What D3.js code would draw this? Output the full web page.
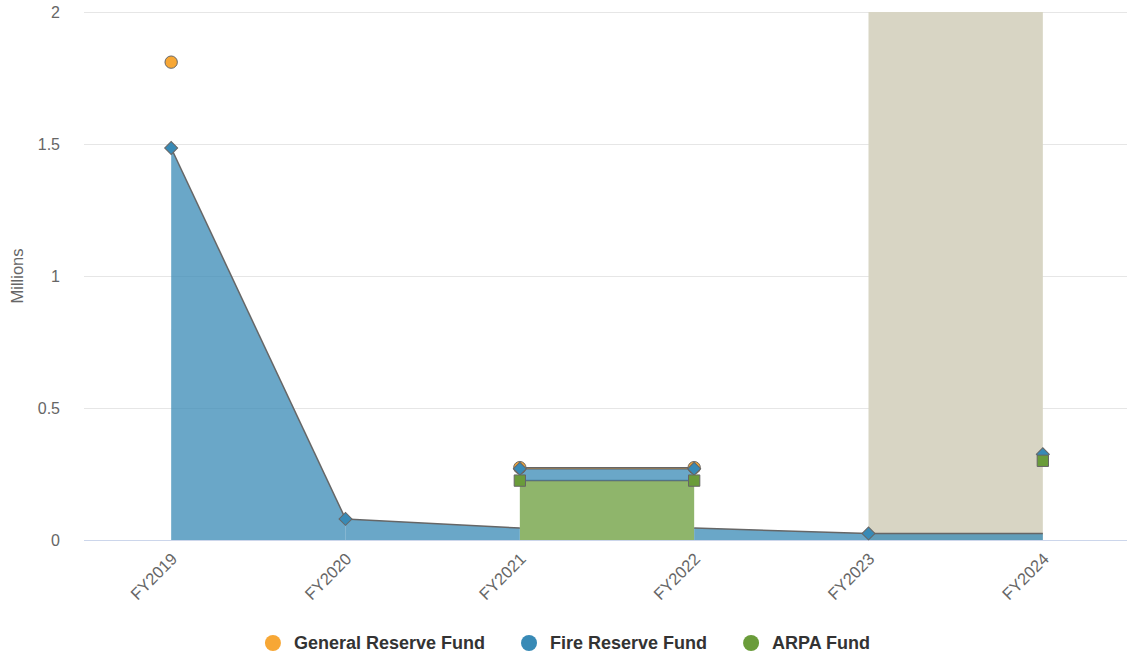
<!DOCTYPE html>
<html>
<head>
<meta charset="utf-8">
<script src="https://cdn.jsdelivr.net/npm/d3@7"></script>
<style>
  html, body { margin: 0; padding: 0; background: #fff; }
  svg { display: block; font-family: "Liberation Sans", Arial, Helvetica, sans-serif; }
</style>
</head>
<body>
<div id="chart"></div>
<script>
// 1: DATA
const categories = ["FY2019", "FY2020", "FY2021", "FY2022", "FY2023", "FY2024"];
const generalReserve = [0.325, null, 0.004, 0.004, null, null];
const fireReserve = [1.485, 0.08, 0.045, 0.045, 0.025, 0.025];
const arpaFund = [null, null, 0.225, 0.225, null, 0.30];
const yTicks = [0, 0.5, 1, 1.5, 2];
const bandRange = ["FY2023", "FY2024"];

const seriesNames = ["General Reserve Fund", "Fire Reserve Fund", "ARPA Fund"];
const seriesColors = ["#f7a735", "#388ab6", "#6a9c3a"];
const seriesSymbols = ["circle", "diamond", "square"];

// 2: LAYOUT
const W = 1127, H = 656;
const margin = { top: 12, right: -3, bottom: 116, left: 84 };
const width = W - margin.left - margin.right;
const height = H - margin.top - margin.bottom;

const svgRoot = d3.select("#chart")
    .append("svg")
    .attr("width", W)
    .attr("height", H);

const svg = svgRoot.append("g")
    .attr("transform", `translate(${margin.left},${margin.top})`);

// Scales
const xScale = d3.scaleBand()
    .domain(categories)
    .range([0, width])
    .padding(0);
const cx = c => xScale(c) + xScale.bandwidth() / 2;

const yScale = d3.scaleLinear()
    .domain([0, 2])
    .range([height, 0]);

// series list, top-down like the legend
const series = seriesNames.map((name, k) => ({
    name,
    color: seriesColors[k],
    symbol: seriesSymbols[k],
    values: [generalReserve, fireReserve, arpaFund][k]
}));
// stacking goes bottom-up
const stackOrder = series.slice().reverse();

// Gridlines
svg.append("g")
    .selectAll("line")
    .data(yTicks)
    .enter()
    .append("line")
    .attr("x1", 0)
    .attr("x2", W - margin.left)
    .attr("y1", d => Math.round(yScale(d)) + 0.5)
    .attr("y2", d => Math.round(yScale(d)) + 0.5)
    .style("stroke", "#e6e6e6")
    .style("stroke-width", 1);

// Plot band
svg.append("rect")
    .attr("x", cx(bandRange[0]))
    .attr("y", 0)
    .attr("width", cx(bandRange[1]) - cx(bandRange[0]))
    .attr("height", height)
    .style("fill", "#d8d5c4");

// Axis line
svg.append("line")
    .attr("x1", 0)
    .attr("x2", W - margin.left)
    .attr("y1", height + 0.5)
    .attr("y2", height + 0.5)
    .style("stroke", "#ccd6eb");

// Y tick labels
svg.append("g")
    .selectAll("text")
    .data(yTicks)
    .enter()
    .append("text")
    .attr("x", -24)
    .attr("y", d => yScale(d))
    .attr("dy", "0.35em")
    .attr("text-anchor", "end")
    .style("font-size", "16px")
    .style("fill", "#666")
    .text(d => d);

// Y title
svg.append("text")
    .attr("transform", `translate(${17 - margin.left},${height / 2}) rotate(-90)`)
    .attr("text-anchor", "middle")
    .attr("dy", "0.35em")
    .style("font-size", "16.5px")
    .style("fill", "#666")
    .text("Millions");

// X labels
svg.append("g")
    .selectAll("text")
    .data(categories)
    .enter()
    .append("text")
    .attr("transform", d => `translate(${cx(d) + 3},${height + 16}) rotate(-45)`)
    .attr("text-anchor", "end")
    .attr("dy", "0.35em")
    .style("font-size", "16.5px")
    .style("fill", "#666")
    .text(d => d);

// Stack helpers
function baseAt(k, i) {
    let s = 0;
    for (let j = 0; j < k; j++) s += stackOrder[j].values[i] || 0;
    return s;
}
function lowerComplete(k, i) {
    for (let j = 0; j < k; j++) if (stackOrder[j].values[i] == null) return false;
    return true;
}

const area = d3.area()
    .x(d => cx(categories[d.i]))
    .y0(d => yScale(d.y0))
    .y1(d => yScale(d.y1));
const line = d3.line()
    .x(d => cx(categories[d.i]))
    .y(d => yScale(d.y1));

// Areas + lines, bottom series first
stackOrder.forEach((s, k) => {
    const segs = [];
    for (let i = 0; i < categories.length - 1; i++) {
        const a = s.values[i], b = s.values[i + 1];
        if (a == null || b == null) continue;
        const stacked = lowerComplete(k, i) && lowerComplete(k, i + 1);
        const b0 = stacked ? baseAt(k, i) : 0;
        const b1 = stacked ? baseAt(k, i + 1) : 0;
        segs.push([{ i, y0: b0, y1: b0 + a }, { i: i + 1, y0: b1, y1: b1 + b }]);
    }
    const g = svg.append("g").attr("class", "series-area");
    g.selectAll("path.fill")
        .data(segs)
        .enter()
        .append("path")
        .attr("class", "fill")
        .attr("d", area)
        .style("fill", s.color)
        .style("fill-opacity", 0.75);
    g.selectAll("path.edge")
        .data(segs)
        .enter()
        .append("path")
        .attr("class", "edge")
        .attr("d", line)
        .style("fill", "none")
        .style("stroke", "#666")
        .style("stroke-width", 1.5);
});

// Markers, legend order (general, fire, arpa)
series.forEach(s => {
    const k = stackOrder.indexOf(s);
    const pts = s.values
        .map((v, i) => ({ i, v }))
        .filter(d => d.v != null)
        .map(d => ({ i: d.i, y: baseAt(k, d.i) + d.v }));
    const sym = s.symbol === "circle" ? d3.symbolCircle : d3.symbolSquare;
    const size = s.symbol === "circle" ? 120 : s.symbol === "diamond" ? 84 : 128;
    svg.append("g")
        .selectAll("path")
        .data(pts)
        .enter()
        .append("path")
        .attr("d", d3.symbol().type(sym).size(size))
        .attr("transform", d => `translate(${cx(categories[d.i])},${yScale(d.y)})` +
            (s.symbol === "diamond" ? " rotate(45)" : ""))
        .style("fill", s.color)
        .style("stroke", "#666")
        .style("stroke-width", 1);
});

// Legend
const legend = svgRoot.append("g").attr("class", "legend");
const items = legend.selectAll("g")
    .data(series)
    .enter()
    .append("g");
items.append("circle")
    .attr("r", 8)
    .attr("cx", 8)
    .attr("cy", 0)
    .style("fill", d => d.color);
items.append("text")
    .attr("x", 29)
    .attr("y", 0)
    .attr("dy", "0.35em")
    .style("font-size", "18px")
    .style("font-weight", "bold")
    .style("fill", "#333")
    .text(d => d.name);

let offset = 0;
const widths = [];
items.each(function () {
    widths.push(29 + d3.select(this).select("text").node().getComputedTextLength());
});
const gap = 36;
const total = d3.sum(widths) + gap * (widths.length - 1);
let start = W / 2 - total / 2 + 4;
items.attr("transform", (d, i) => {
    const x = start + offset;
    offset += widths[i] + gap;
    return `translate(${x},643)`;
});
</script>
</body>
</html>
